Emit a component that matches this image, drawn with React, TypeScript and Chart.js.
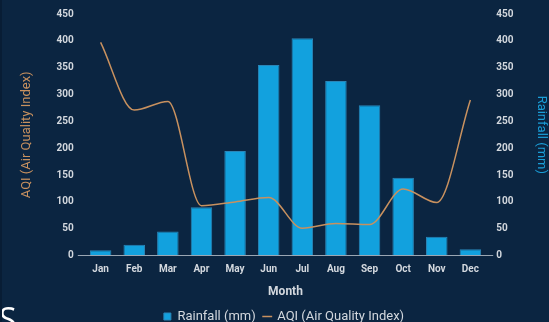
import React, { useEffect, useRef } from "react";
import { Chart, registerables } from "chart.js";

Chart.register(...registerables);

const months = ["Jan", "Feb", "Mar", "Apr", "May", "Jun", "Jul", "Aug", "Sep", "Oct", "Nov", "Dec"];
const rainfall = [10, 20, 45, 90, 195, 355, 405, 325, 280, 145, 35, 12];
const aqi = [397, 271, 287, 93, 100, 108, 51, 60, 58, 124, 99, 290];
const axisTicks = [0, 50, 100, 150, 200, 250, 300, 350, 400, 450];

const BG = "#0b2541";
const BAR = "#12a1de";
const LINE = "#c8915f";
const TEXT = "#d3d8de";

export default function App() {
  const ref = useRef<HTMLCanvasElement | null>(null);

  useEffect(() => {
    if (!ref.current) return;
    const tickFont = { family: "Roboto", size: 10, weight: "bold" as const };
    const zeroLine = (c: any) => (c.tick && c.tick.value === 0 ? "#9aa6b3" : "rgba(0,0,0,0)");
    const chart = new Chart(ref.current, {
      data: {
        labels: months,
        datasets: [
          {
            type: "bar",
            label: "Rainfall (mm)",
            data: rainfall,
            yAxisID: "yRain",
            backgroundColor: BAR,
            borderColor: "#2a86b8",
            borderWidth: 1,
            barPercentage: 0.8,
            categoryPercentage: 0.8,
            pointStyle: "rect",
            order: 2,
          },
          {
            type: "line",
            label: "AQI (Air Quality Index)",
            data: aqi,
            yAxisID: "yAqi",
            borderColor: LINE,
            backgroundColor: LINE,
            borderWidth: 1.5,
            pointRadius: 0,
            cubicInterpolationMode: "monotone",
            pointStyle: "line",
            order: 1,
          },
        ],
      },
      options: {
        animation: false,
        responsive: false,
        layout: { padding: { left: 17, right: 0, top: 14, bottom: 0 } },
        plugins: {
          tooltip: { enabled: false },
          legend: {
            position: "bottom",
            labels: {
              color: TEXT,
              font: { family: "Roboto", size: 13 },
              usePointStyle: true,
              boxWidth: 7,
              boxHeight: 7,
              padding: 8,
              sort: (a: any, b: any) => a.datasetIndex - b.datasetIndex,
            },
          },
        },
        scales: {
          x: {
            grid: { display: false },
            border: { display: false },
            ticks: { color: TEXT, font: tickFont, padding: 0 },
            title: {
              display: true,
              text: "Month",
              color: TEXT,
              font: { family: "Roboto", size: 12, weight: "bold" },
              padding: { top: 9, bottom: 3 },
            },
          },
          yAqi: {
            position: "left",
            min: 0,
            max: 450,
            afterBuildTicks: (axis: any) => {
              axis.ticks = axisTicks.map((v) => ({ value: v }));
            },
            grid: { color: zeroLine, tickLength: 6 },
            border: { display: false },
            ticks: { color: TEXT, font: tickFont, padding: 4 },
            title: {
              display: true,
              text: "AQI (Air Quality Index)",
              color: LINE,
              font: { family: "Roboto", size: 13 },
              padding: { top: 0, bottom: 18 },
            },
          },
          yRain: {
            position: "right",
            min: 0,
            max: 450,
            afterBuildTicks: (axis: any) => {
              axis.ticks = axisTicks.map((v) => ({ value: v }));
            },
            grid: { color: zeroLine, tickLength: 6 },
            border: { display: false },
            ticks: { color: TEXT, font: tickFont, padding: 3 },
            title: {
              display: true,
              text: "Rainfall (mm)",
              color: "#1a9ed8",
              font: { family: "Roboto", size: 13 },
              padding: { top: 0, bottom: 17 },
            },
          },
        },
      },
    } as any);
    return () => chart.destroy();
  }, []);

  return (
    <div
      style={{
        position: "fixed",
        left: 0,
        top: 0,
        width: 549,
        height: 322,
        background: BG,
        overflow: "hidden",
        borderLeft: "2px solid #081d35",
        boxSizing: "border-box",
      }}
    >
      <canvas ref={ref} width={547} height={333} style={{ position: "absolute", left: 0, top: 0 }} />
      <span
        style={{
          position: "absolute",
          left: -3,
          top: 299,
          color: "#ffffff",
          fontFamily: "Open Sans",
          fontSize: 32,
          lineHeight: "40px",
        }}
      >
        S
      </span>
    </div>
  );
}
